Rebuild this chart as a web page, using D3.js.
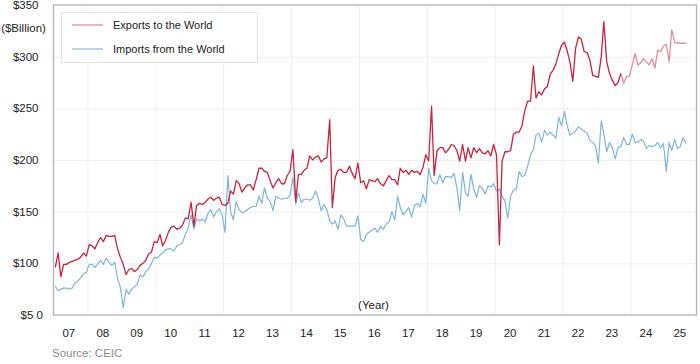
<!DOCTYPE html>
<html><head><meta charset="utf-8">
<script src="https://cdn.jsdelivr.net/npm/d3@7"></script>
<style>body{margin:0;background:#fff;} svg{display:block;font-family:"Liberation Sans",Arial,Helvetica,sans-serif;}</style>
</head><body><svg id="c" width="700" height="364"></svg>
<script>
// Monthly values, $ billion, starting January 2007
const firstYear = 2007;
const exportsWorld = [
 96,110,87,99,99,101,102,103,104,106,110,107,
 118,117,114,120,125,121,127,126,126,127,114,106,
 99,89,94,95,92,94,98,100,103,109,111,121,
 120,128,117,122,130,135,136,133,134,137,144,143,
 159,136,156,158,157,159,162,164,161,163,164,157,
 156,158,170,167,180,177,169,173,176,176,171,181,
 192,192,189,188,180,173,178,182,177,177,185,189,
 210,160,186,186,190,192,204,200,203,204,198,201,
 202,239,154,183,190,191,188,188,194,187,182,197,
 178,180,172,181,180,179,182,177,175,180,185,181,
 181,176,192,188,190,186,190,188,189,186,193,205,
 199,252,185,209,212,212,207,210,215,214,209,199,
 215,199,212,202,212,207,211,207,206,209,204,215,
 205,118,199,208,208,209,225,227,227,233,248,257,
 257,291,260,266,263,269,271,283,287,293,303,311,
 314,305,295,276,308,319,317,305,304,297,282,281,
 280,300,334,295,284,277,272,275,284,274,281,281,
 292,303,292,294,298,295,292,298,289,306,305,310,
 312,295,326,314,313,313,313,313
];
const importsWorld = [
 78,73.5,75,76,76,75,76,81,83,86,90,91,
 99,99,96,99,103,99,105,101,98,101,85,77,
 57,75,70,75,77,80,89,87,92,95,100,106,
 105,108,110,113,114,114,112,117,118,120,128,134,
 147,133,143,141,143,140,148,152,145,150,153,147,
 130,185,150,142,160,152,149,150,152,154,155,155,
 165,158,173,163,160,151,165,163,162,163,163,166,
 183,157,168,159,162,162,161,163,170,163,151,157,
 152,141,138,141,133,147,143,136,136,136,136,146,
 123,121,128,130,132,134,130,136,133,138,140,150,
 142,165,154,147,150,154,145,156,158,155,167,158,
 192,180,177,177,186,178,184,184,183,187,173,151,
 188,168,165,186,172,164,175,173,167,175,174,177,
 170,172,165,160,144,165,171,172,189,184,185,194,
 205,210,224,226,217,229,224,227,224,221,241,233,
 247,233,224,226,228,232,230,228,226,219,217,214,
 197,238,225,208,217,212,201,212,213,222,215,215,
 225,217,217,220,218,211,214,213,214,217,212,216,
 189,217,209,220,211,213,222,216
];
const exportsLatestFrom = 200; // index from which the export series is shown in a lighter shade
const seriesNames = ["Exports to the World", "Imports from the World"];
const yearLabels = ["07","08","09","10","11","12","13","14","15","16","17","18","19","20","21","22","23","24","25"];
const yTickValues = [50,100,150,200,250,300,350];
const yTickLabels = ["$5 0","$100","$150","$200","$250","$300","$350"];
const gridYears = [2008,2010,2012,2014,2016,2018,2020,2022,2024];

const svg = d3.select("#c");
const L = 53.5, R = 696.5, T = 5, B = 315;
const x = d3.scaleTime().domain([new Date(2007,0,1), new Date(2026,0,1)]).range([54, 698.9]);
const y = d3.scaleLinear().domain([50,350]).range([B, T]);

const toPts = arr => arr.map((v,i) => ({date: new Date(firstYear, i, 15), v}));
const exPts = toPts(exportsWorld), imPts = toPts(importsWorld);

// grid
const g = svg.append("g");
g.selectAll("line.h").data(yTickValues.filter(v => v>50 && v<350)).join("line")
  .attr("x1", L).attr("x2", R).attr("y1", d=>y(d)+0.5).attr("y2", d=>y(d)+0.5)
  .attr("stroke", "#efefef").attr("stroke-width", 1);
g.selectAll("line.v").data(gridYears).join("line")
  .attr("x1", d=>x(new Date(d,0,1))).attr("x2", d=>x(new Date(d,0,1)))
  .attr("y1", T).attr("y2", B).attr("stroke", "#efefef").attr("stroke-width", 1);

// lines
const line = d3.line().x(d=>x(d.date)).y(d=>y(d.v));
svg.append("path").datum(imPts).attr("d", line).attr("fill","none")
  .attr("stroke","#7ab6df").attr("stroke-width",1.2).attr("stroke-linejoin","round");
svg.append("path").datum(exPts.slice(0, exportsLatestFrom+1)).attr("d", line).attr("fill","none")
  .attr("stroke","#c9243c").attr("stroke-width",1.3).attr("stroke-linejoin","round");
svg.append("path").datum(exPts.slice(exportsLatestFrom)).attr("d", line).attr("fill","none")
  .attr("stroke","#e48d9a").attr("stroke-width",1.3).attr("stroke-linejoin","round");

// frame
svg.append("rect").attr("x", L).attr("y", T).attr("width", R-L).attr("height", B-T)
  .attr("fill","none").attr("stroke","#b3b3b3").attr("stroke-width",1.3);

// y labels
svg.selectAll("text.yl").data(yTickValues).join("text")
  .attr("x", (d,i) => yTickLabels[i].includes(" ") ? 43 : 38.5)
  .attr("y", d=>y(d)).attr("dy","0.35em").attr("text-anchor","end")
  .attr("font-size", 11.5).attr("fill","#222").text((d,i)=>yTickLabels[i]);
svg.append("text").attr("x", 23.5).attr("y", 28).attr("dy","0.35em").attr("text-anchor","middle")
  .attr("font-size", 11.5).attr("fill","#222").text("($Billion)");

// x labels
svg.selectAll("text.xl").data(yearLabels).join("text")
  .attr("x", (d,i) => x(new Date(firstYear+i, 6, 1)) - 2).attr("y", 337)
  .attr("text-anchor","middle").attr("font-size", 11.5).attr("fill","#222").text(d=>d);
svg.append("text").attr("x", 373.5).attr("y", 308.5).attr("text-anchor","middle")
  .attr("font-size", 11.5).attr("fill","#222").text("(Year)");
svg.append("text").attr("x", 52).attr("y", 357).attr("font-size", 11.5).attr("fill","#8a8a8a").text("Source: CEIC");

// legend
const lg = svg.append("g");
lg.append("rect").attr("x", 61.5).attr("y", 12.5).attr("width", 196).attr("height", 50)
  .attr("fill","#fff").attr("stroke","#e3e3e3").attr("stroke-width",1);
const legColors = ["#eea3ad", "#a5cdea"];
seriesNames.forEach((n,i) => {
  const yy = 25 + i*24;
  lg.append("line").attr("x1",72).attr("x2",103).attr("y1",yy).attr("y2",yy)
    .attr("stroke", legColors[i]).attr("stroke-width", 1.6);
  lg.append("text").attr("x",113).attr("y",yy).attr("dy","0.35em").attr("font-size",11)
    .attr("fill","#222").text(n);
});
</script></body></html>
